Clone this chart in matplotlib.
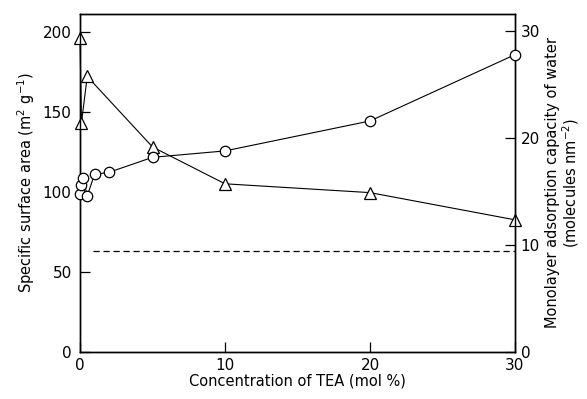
import numpy as np
import matplotlib
matplotlib.use('Agg')
import matplotlib.pyplot as plt

# concentration of TEA (mol %)
tri_x = [0, 0.1, 0.5, 5, 10, 20, 30]
# specific surface area (m2/g), left axis
tri_area = [196, 143, 172, 128, 105, 99.5, 82.5]

circ_x = [0, 0.1, 0.2, 0.5, 1, 2, 5, 10, 20, 30]
# monolayer adsorption capacity of water (molecules/nm2), right axis
circ_water = [14.8, 15.6, 16.3, 14.6, 16.6, 16.8, 18.2, 18.8, 21.6, 27.8]

dashed_level = 9.4

plt.rcParams['font.family'] = 'DejaVu Sans'
plt.rcParams['mathtext.fontset'] = 'dejavusans'

fig = plt.figure(figsize=(5.87, 3.99), dpi=100)
ax = fig.add_axes([80/587, 1 - 352/399, 435/587, 338/399])
ax2 = ax.twinx()

ax.plot(tri_x, tri_area, color='black', lw=0.8, marker='^', ms=9,
        mfc='white', mec='black', mew=0.9, zorder=3, clip_on=False)
ax2.plot(circ_x, circ_water, color='black', lw=0.8, marker='o', ms=7.5,
         mfc='white', mec='black', mew=0.9, zorder=3, clip_on=False)
ax2.axhline(dashed_level, xmin=0.03, xmax=1, color='black', lw=0.9,
            ls=(0, (5, 3)))

ax.set_xlim(0, 30)
ax.set_ylim(0, 211)
ax2.set_ylim(0, 31.6)

ax.set_xticks([0, 10, 20, 30])
ax.set_yticks([0, 50, 100, 150, 200])
ax2.set_yticks([0, 10, 20, 30])

ax.tick_params(axis='x', direction='in', length=7, width=0.9, pad=4, labelsize=11)
ax.tick_params(axis='y', direction='in', length=7, width=0.9, pad=6, labelsize=11)
ax2.tick_params(axis='y', direction='in', length=7, width=0.9, pad=4, labelsize=11)

for a in (ax, ax2):
    for s in a.spines.values():
        s.set_linewidth(1.0)

ax.set_xlabel('Concentration of TEA (mol %)', fontsize=10.5, labelpad=1)
ax.set_ylabel('Specific surface area (m$^2$ g$^{-1}$)', fontsize=10.5, labelpad=4)
ax2.set_ylabel('Monolayer adsorption capacity of water\n(molecules nm$^{-2}$)',
               fontsize=10.5, labelpad=4, linespacing=1.0)

fig.savefig('out.png', dpi=100)
